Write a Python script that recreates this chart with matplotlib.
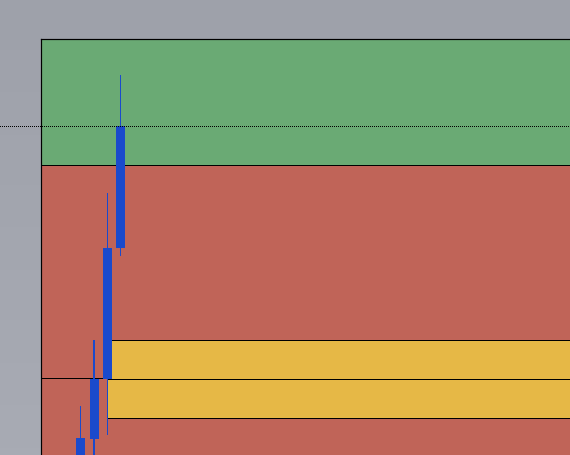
import numpy as np
import matplotlib
matplotlib.use("Agg")
import matplotlib.pyplot as plt
from matplotlib.patches import Rectangle
from matplotlib.colors import LinearSegmentedColormap

# ---- data (price units) ----
candle_idx = [0, 1, 2, 3]
opens  = [-1.5, 1.6, 7.6, 20.7]
closes = [1.7, 7.6, 20.7, 32.9]
highs  = [4.9, 11.5, 26.2, 38.0]
lows   = [-3.0, -2.0, 2.0, 19.9]

# horizontal zones (lower, upper)
green_zone = (29.0, 60.0)
red_zones = [(7.7, 29.0), (-20.0, 7.7)]
# yellow boxes: (start index, lower, upper)
yellow_boxes = [(2, 7.6, 11.5), (2, 3.7, 7.6)]
last_price = closes[-1]

# ---- style ----
GREEN = "#6aaa74"
RED = "#c06458"
YELLOW = "#e6b846"
BLUE = "#1a4acc"
W, H = 570, 455
DPI = 100
px = 72.0 / DPI

fig = plt.figure(figsize=(W / DPI, H / DPI), dpi=DPI)

# background gradient
bg = fig.add_axes([0, 0, 1, 1], zorder=-10)
cmap = LinearSegmentedColormap.from_list("bg", ["#9ea1aa", "#a8abb4"])
bg.imshow(np.linspace(0, 1, 64).reshape(-1, 1), aspect="auto", cmap=cmap,
          extent=[0, 1, 0, 1], origin="upper")
bg.set_axis_off()

ax = fig.add_axes([41 / W, 0, (W - 41) / W, (H - 39) / H])
ax.set_xlim(-2.96, 36.5)
ax.set_ylim(0, 41.6)
unit_px = (W - 41) / (36.5 + 2.96)

def zone(x0, x1, lo, hi, color, z):
    ax.add_patch(Rectangle((x0, lo), x1 - x0, hi - lo, facecolor=color,
                           edgecolor="black", linewidth=px, zorder=z))

zone(-10, 100, green_zone[0], green_zone[1], GREEN, 1)
for lo, hi in red_zones:
    zone(-10, 100, lo, hi, RED, 1)
for start, lo, hi in yellow_boxes:
    zone(start, 100, lo, hi, YELLOW, 2)

body_w = 9.0 / unit_px
wick_w = 1.2 / unit_px
for i, o, c, h, l in zip(candle_idx, opens, closes, highs, lows):
    ax.add_patch(Rectangle((i - wick_w / 2, l), wick_w, h - l,
                           facecolor=BLUE, edgecolor="none", zorder=4,
                           snap=True))
    ax.add_patch(Rectangle((i - body_w / 2, min(o, c)), body_w, abs(c - o),
                           facecolor=BLUE, edgecolor="none", zorder=5,
                           snap=True))

# dotted last-price line extending over the left margin
ax.plot([-41 / (W - 41), 1], [last_price, last_price], color="black",
        linewidth=px, linestyle=(0, (1, 2)), transform=ax.get_yaxis_transform(),
        clip_on=False, zorder=6, antialiased=False)

for s in ["right", "bottom"]:
    ax.spines[s].set_visible(False)
for s in ["top", "left"]:
    ax.spines[s].set_linewidth(1.2 * px)
    ax.spines[s].set_color("black")
    ax.spines[s].set_zorder(7)
ax.set_xticks([])
ax.set_yticks([])

fig.savefig("out.png", dpi=DPI)
